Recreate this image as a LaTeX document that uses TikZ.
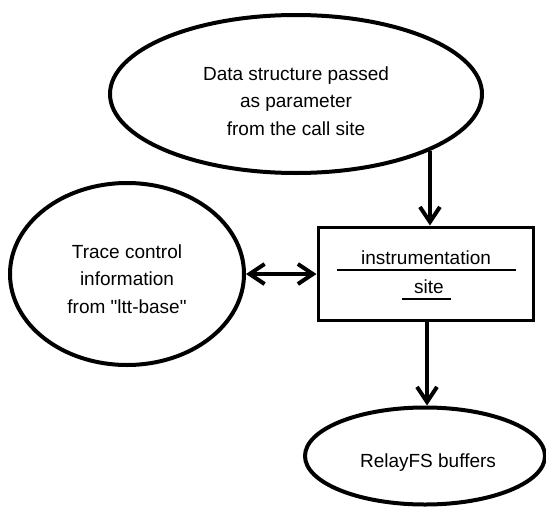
\documentclass[tikz,border=0pt]{standalone}
\usepackage{fontspec}
\setmainfont{Liberation Sans}[Ligatures=TeXOff]
\usetikzlibrary{shapes.geometric,arrows.meta}

\begin{document}
\begin{tikzpicture}[x=1pt,y=-1pt,
  oval/.style={ellipse,draw,line width=4pt,inner sep=0pt},
  sitebox/.style={rectangle,draw,line width=3pt,inner sep=0pt},
  lbl/.style={align=center,font=\fontsize{19}{27.5}\selectfont,inner sep=0pt},
  arr/.style={line width=4pt,-{Straight Barb[length=15pt,width=20pt,line width=4pt]}},
  darr/.style={line width=4pt,{Straight Barb[length=15pt,width=20pt,line width=4pt]}-{Straight Barb[length=15pt,width=20pt,line width=4pt]}},
  uline/.style={line width=1.8pt}]
  \useasboundingbox (0,0) rectangle (546,506);

  % shapes
  \node[oval,minimum width=372pt,minimum height=158pt] (data) at (296,94) {};
  \node[oval,minimum width=234pt,minimum height=182pt] (trace) at (127,274) {};
  \node[sitebox,minimum width=215pt,minimum height=93pt] (box) at (425.5,273.5) {};
  \node[oval,minimum width=240pt,minimum height=97pt] (relay) at (425,456) {};

  % texts
  \node[lbl] (datatxt) at (296,101) {Data structure passed\\as parameter\\from the call site};
  \node[lbl] (tracetxt) at (127,279) {Trace control\\information\\from "ltt-base"};
  \node[lbl,anchor=base] (inst) at (426,264.5) {instrumentation};
  \node[lbl,anchor=base] (site) at (429,293.5) {site};
  \node[lbl] (relaytxt) at (428,463) {RelayFS buffers};

  % underlines inside the box
  \draw[uline] (337,270) -- (516,270);
  \draw[uline] (402,299) -- (451,299);

  % connectors
  \coordinate (col) at (427,0);
  \draw[arr] (data.-23.1) -- (data.-23.1 |- box.north);
  \draw[darr] (trace.east) -- (trace.east -| box.west);
  \draw[arr] (col |- box.south) -- (col |- relay.north);
\end{tikzpicture}
\end{document}
